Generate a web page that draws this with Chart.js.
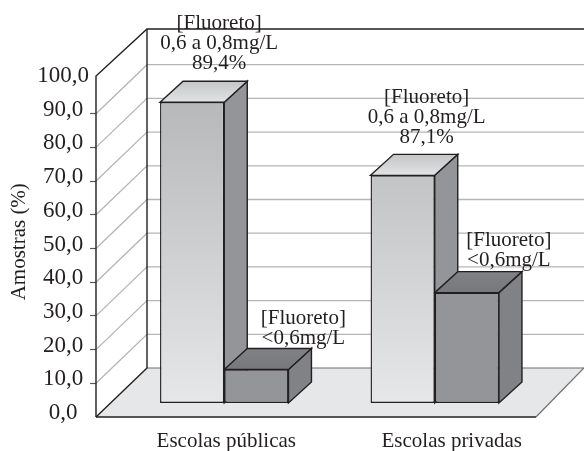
<!DOCTYPE html>
<html>
<head>
<meta charset="utf-8">
<style>
  html, body { margin: 0; padding: 0; background: white; }
  canvas { display: block; }
</style>
<script src="https://cdn.jsdelivr.net/npm/chart.js@4"></script>
</head>
<body>
<canvas id="chart" width="584" height="451"></canvas>
<script>
const schools = ['Escolas públicas', 'Escolas privadas'];
const seriesNames = ['0,6 a 0,8mg/L', '<0,6mg/L'];
// bar heights as drawn; the private bar is printed 87,1% but drawn near 68
const fluorideOk = [89.4, 67.7];
const fluorideLow = [10.1, 32.9];
const okLabels = [
    ['[Fluoreto]', '0,6 a 0,8mg/L', '89,4%'],
    ['[Fluoreto]', '0,6 a 0,8mg/L', '87,1%']
];
const lowLabels = [
    ['[Fluoreto]', '<0,6mg/L'],
    ['[Fluoreto]', '<0,6mg/L']
];

const INK = '#231f20';
const SERIF = '"Liberation Serif", "Times New Roman", serif';

// fake perspective
const WALL_DX = 51, WALL_DY = -49;    // front plane -> back wall
const BAR_DX = 23, BAR_DY = -13.5;    // front plane -> bars front face
const DEPTH_DX = 23, DEPTH_DY = -21;  // depth of each bar
const FLOOR_RIGHT = 536;
const sideColors = ['#939598', '#808285'];

function poly(ctx, pts, fill, stroke, width) {
    ctx.beginPath();
    pts.forEach(function (p, i) {
        if (i === 0) ctx.moveTo(p[0], p[1]); else ctx.lineTo(p[0], p[1]);
    });
    if (fill) {
        ctx.closePath();
        ctx.fillStyle = fill;
        ctx.fill();
    }
    if (stroke) {
        ctx.strokeStyle = stroke;
        ctx.lineWidth = width || 1;
        ctx.stroke();
    }
}

const box3d = {
    id: 'box3d',
    beforeDatasetsDraw: function (chart) {
        const ctx = chart.ctx;
        const y = chart.scales.y;
        const left = chart.chartArea.left;
        const w = chart.width;
        const y0 = y.getPixelForValue(0);
        const backLeft = left + WALL_DX;
        const backBottom = y0 + WALL_DY;

        // floor
        poly(ctx, [[left, y0], [FLOOR_RIGHT, y0], [w, backBottom], [backLeft, backBottom]],
            '#e6e7e8');
        poly(ctx, [[FLOOR_RIGHT, y0], [w, backBottom]], null, '#6d6e71', 1.2);
        poly(ctx, [[backLeft, backBottom], [w, backBottom]], null, '#6d6e71', 1.2);

        // grid on back wall and side wall
        y.ticks.forEach(function (t) {
            if (t.value === 0 || t.value === 100) return;
            const py = y.getPixelForValue(t.value);
            poly(ctx, [[left, py], [backLeft, py + WALL_DY], [w, py + WALL_DY]],
                null, '#b4b5b8', 1.3);
        });

        // frame
        const top = y.getPixelForValue(100);
        poly(ctx, [[left, y0], [left, top - 4], [backLeft, top + WALL_DY - 2], [w, top + WALL_DY - 2]],
            null, INK, 1.4);
        poly(ctx, [[backLeft, top + WALL_DY - 2], [backLeft, backBottom]], null, INK, 1.4);
        poly(ctx, [[left, y0], [FLOOR_RIGHT, y0]], null, INK, 1.4);
        poly(ctx, [[left, y0], [backLeft, backBottom]], null, INK, 1.4);

        // bars are drawn by the library in this shifted frame
        ctx.save();
        ctx.translate(BAR_DX, BAR_DY);
        chart.data.datasets.forEach(function (ds, d) {
            chart.getDatasetMeta(d).data.forEach(function (bar) {
                const l = bar.x - bar.width / 2, r = bar.x + bar.width / 2;
                const t = bar.y, b = bar.base;
                const top = ctx.createLinearGradient(0, t + DEPTH_DY, 0, t);
                if (d === 0) {
                    top.addColorStop(0, '#c4c5c7');
                    top.addColorStop(1, '#e2e3e4');
                } else {
                    top.addColorStop(0, '#808285');
                    top.addColorStop(1, '#77787b');
                }
                poly(ctx, [[r, t], [r + DEPTH_DX, t + DEPTH_DY], [r + DEPTH_DX, b + DEPTH_DY], [r, b]],
                    sideColors[d], INK, 1.4);
                poly(ctx, [[l, t], [l + DEPTH_DX, t + DEPTH_DY], [r + DEPTH_DX, t + DEPTH_DY], [r, t]],
                    top, INK, 1.4);
            });
        });
    },
    afterDatasetsDraw: function (chart) {
        const ctx = chart.ctx;
        ctx.restore();

        // value labels above the bars, per school then per series
        const shift = [[27, 47], [24, 42]];
        const rise = [[79, 51], [78, 52]];
        const lines = [okLabels, lowLabels];
        ctx.save();
        ctx.font = '21px ' + SERIF;
        ctx.fillStyle = INK;
        ctx.textAlign = 'center';
        ctx.textBaseline = 'middle';
        chart.data.datasets.forEach(function (ds, d) {
            chart.getDatasetMeta(d).data.forEach(function (bar, i) {
                const txt = lines[d][i];
                const cx = bar.x + BAR_DX + shift[i][d];
                const last = bar.y + BAR_DY - rise[i][d] + (txt.length - 1) * 20;
                txt.forEach(function (s, k) {
                    ctx.fillText(s, cx, last - (txt.length - 1 - k) * 20);
                });
            });
        });

        // category labels do not sit under the bars in the original
        const x = chart.scales.x;
        const nudge = [2, 17];
        schools.forEach(function (s, i) {
            ctx.fillText(s, x.getPixelForTick(i) + BAR_DX + nudge[i], 441);
        });
        ctx.restore();
    }
};

function frontFill(context, dark, light) {
    const area = context.chart.chartArea;
    if (!area) return light;
    const y = context.chart.scales.y;
    const g = context.chart.ctx.createLinearGradient(0, y.getPixelForValue(90), 0, y.getPixelForValue(0));
    g.addColorStop(0, dark);
    g.addColorStop(1, light);
    return g;
}

new Chart(document.getElementById('chart'), {
    type: 'bar',
    data: {
        labels: schools,
        datasets: [
            {
                label: seriesNames[0],
                data: fluorideOk,
                backgroundColor: function (c) { return frontFill(c, '#b7b8ba', '#e6e7e8'); },
                borderColor: INK,
                borderWidth: 1.4,
                borderSkipped: false,
                barPercentage: 1,
                categoryPercentage: 0.61
            },
            {
                label: seriesNames[1],
                data: fluorideLow,
                backgroundColor: '#939598',
                borderColor: INK,
                borderWidth: 1.4,
                borderSkipped: false,
                barPercentage: 1,
                categoryPercentage: 0.61
            }
        ]
    },
    options: {
        responsive: false,
        animation: false,
        layout: { padding: { top: 66.5, right: 67, left: 0, bottom: 0 } },
        plugins: { legend: { display: false }, tooltip: { enabled: false } },
        scales: {
            x: {
                grid: { display: false },
                border: { display: false },
                ticks: { display: false },
                afterFit: function (scale) { scale.height = 34; }
            },
            y: {
                min: 0,
                max: 104,
                grid: {
                    drawOnChartArea: false,
                    tickLength: 6,
                    tickWidth: 1.2,
                    // no tick mark at the two ends of the front axis
                    tickColor: function (c) {
                        return (c.tick.value === 0 || c.tick.value === 100) ? 'rgba(0,0,0,0)' : '#58595b';
                    }
                },
                border: { display: false },
                ticks: {
                    stepSize: 10,
                    includeBounds: false,
                    crossAlign: 'center',
                    labelOffset: -4,
                    padding: 1,
                    color: INK,
                    font: { family: SERIF, size: 23 },
                    callback: function (v) { return v.toFixed(1).replace('.', ','); }
                },
                title: {
                    display: true,
                    text: 'Amostras (%)',
                    color: INK,
                    font: { family: SERIF, size: 21 },
                    padding: { top: 7, bottom: 0 }
                },
                afterFit: function (scale) { scale.width = 96; }
            }
        }
    },
    plugins: [box3d]
});
</script>
</body>
</html>
